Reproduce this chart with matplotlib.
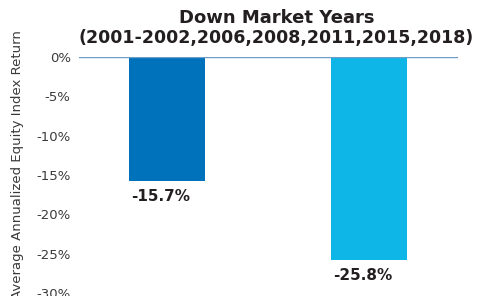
import matplotlib
matplotlib.use("Agg")
import matplotlib.pyplot as plt
from matplotlib.ticker import FuncFormatter

# data
categories = ["A", "B"]
values = [-15.7, -25.8]
colors = ["#0072BC", "#0DB6E7"]
yticks = [0, -5, -10, -15, -20, -25, -30]

fig = plt.figure(figsize=(4.89, 2.96), dpi=100)
ax = fig.add_axes([79 / 489, 3 / 296, 379 / 489, 236 / 296])

x = range(len(categories))
ax.bar(x, values, width=0.376, color=colors)

for xi, v in zip(x, values):
    ax.text(xi - 0.03, v - 2.0, f"{v:.1f}%", ha="center", va="center",
            fontsize=11, fontweight="bold", color="#231F20")

ax.set_xlim(-0.436, 1.44)
ax.set_ylim(-30, 0)
ax.set_yticks(yticks)
ax.yaxis.set_major_formatter(FuncFormatter(lambda v, p: f"{v:.0f}%"))
ax.set_xticks([])
ax.tick_params(axis="y", length=0, labelsize=9.5, labelcolor="#3a3a3a", pad=6)

for s in ["left", "right", "bottom", "top"]:
    ax.spines[s].set_visible(False)
ax.axhline(0, color="#6E9CC4", linewidth=1.0)

ax.set_ylabel("Average Annualized Equity Index Return", fontsize=9.5,
              color="#3a3a3a")
ax.yaxis.set_label_coords(-0.145, 0.545)

fig.text(0.565, 0.939, "Down Market Years", ha="center", va="center",
         fontsize=13, fontweight="bold", color="#231F20")
fig.text(0.565, 0.870, "(2001-2002,2006,2008,2011,2015,2018)", ha="center",
         va="center", fontsize=12.5, fontweight="bold", color="#231F20")

fig.savefig("out.png", dpi=100)
